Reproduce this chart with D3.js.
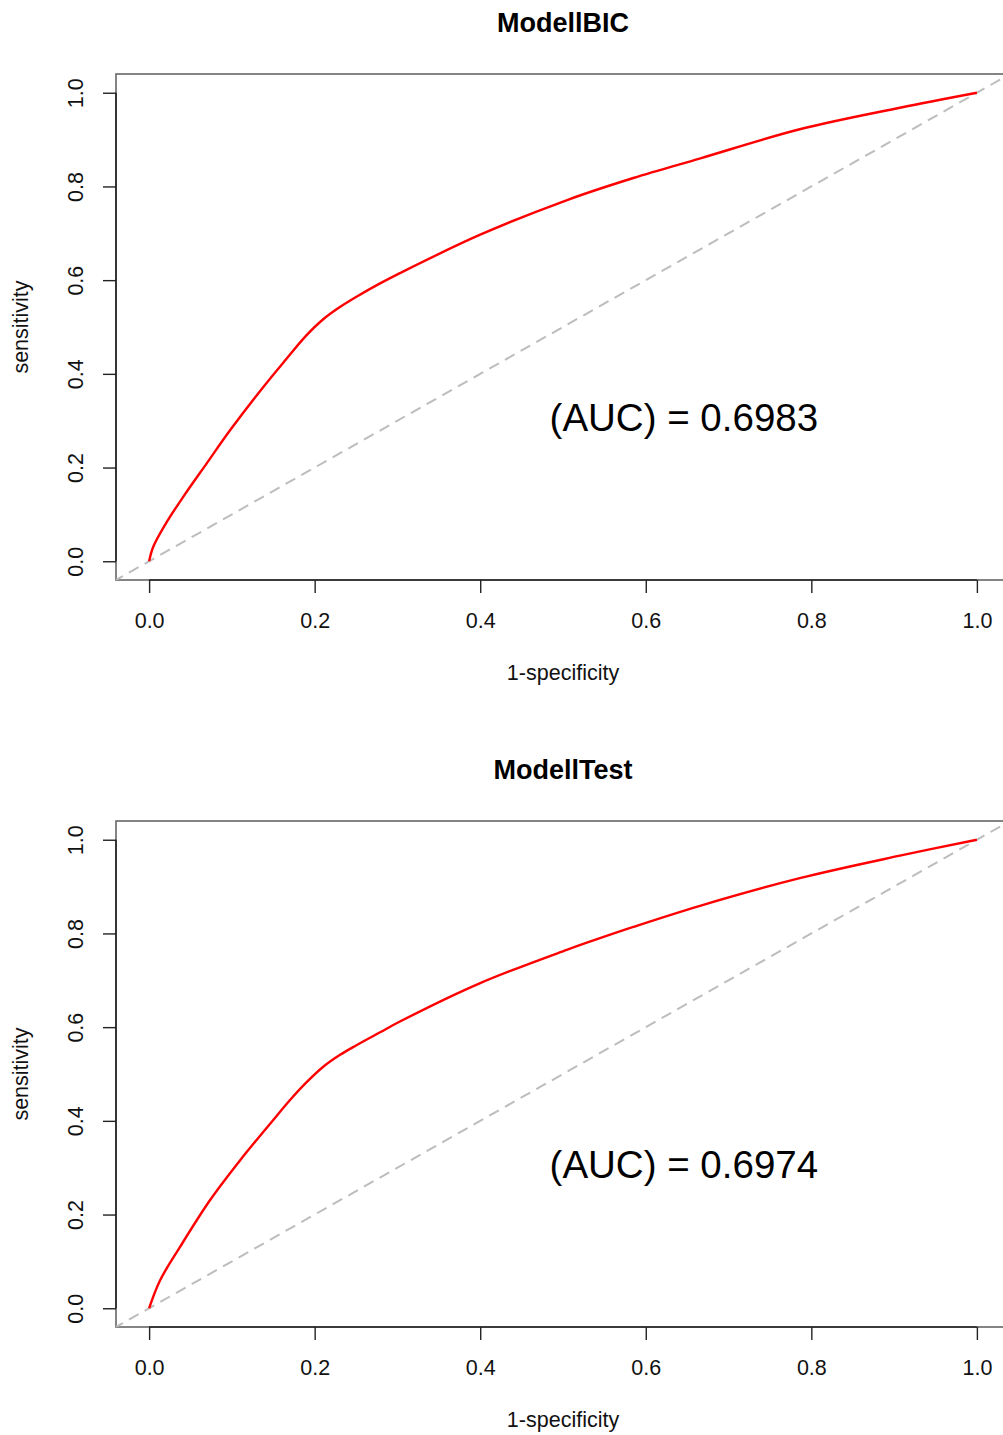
<!DOCTYPE html>
<html>
<head>
<meta charset="utf-8">
<script src="https://cdn.jsdelivr.net/npm/d3@7"></script>
<style>
  html, body { margin: 0; padding: 0; background: #fff; }
  svg { display: block; font-family: "Liberation Sans", Arial, Helvetica, sans-serif; }
</style>
</head>
<body>
<svg id="chart" width="1003" height="1435"></svg>
<script>
// ---- data ----
const panelTitles = ["ModellBIC", "ModellTest"];
const aucLabels = ["(AUC) = 0.6983", "(AUC) = 0.6974"];
const xLabel = "1-specificity";
const yLabel = "sensitivity";
const tickValues = [0, 0.2, 0.4, 0.6, 0.8, 1.0];

const fprBIC  = [0, 0.005, 0.02, 0.041, 0.07, 0.098, 0.138, 0.165, 0.19, 0.21, 0.23, 0.25, 0.279, 0.303, 0.40, 0.505, 0.585, 0.666, 0.786, 0.907, 1.0];
const tprBIC  = [0, 0.031, 0.080, 0.137, 0.21, 0.280, 0.372, 0.430, 0.482, 0.516, 0.542, 0.564, 0.593, 0.615, 0.697, 0.771, 0.818, 0.860, 0.922, 0.968, 1.0];
const fprTest = [0, 0.0133, 0.0374, 0.0737, 0.11, 0.150, 0.170, 0.190, 0.21, 0.2307, 0.25, 0.279, 0.303, 0.40, 0.5045, 0.5447, 0.585, 0.6655, 0.786, 0.907, 1.0];
const tprTest = [0, 0.0598, 0.131, 0.231, 0.316, 0.402, 0.444, 0.482, 0.515, 0.541, 0.561, 0.589, 0.612, 0.694, 0.765, 0.790, 0.814, 0.859, 0.918, 0.966, 1.0];

const curves = [
  fprBIC.map((d, i) => ({x: d, y: tprBIC[i]})),
  fprTest.map((d, i) => ({x: d, y: tprTest[i]}))
];

// ---- layout ----
const svg = d3.select("#chart");
const panelOffset = 747;
const plotL = 116, plotR = 1010, plotT = 74, plotB = 580;

const x = d3.scaleLinear().domain([-0.04, 1.04]).range([plotL, plotR]);
const yBase = d3.scaleLinear().domain([-0.04, 1.04]).range([plotB, plotT]);

const defs = svg.append("defs");

panelTitles.forEach((title, p) => {
  const off = p * panelOffset;
  const y = yBase.copy().range([plotB + off, plotT + off]);
  const g = svg.append("g");

  const clipId = "clip" + p;
  defs.append("clipPath").attr("id", clipId)
    .append("rect")
    .attr("x", plotL).attr("y", plotT + off)
    .attr("width", plotR - plotL).attr("height", plotB - plotT);

  // title
  g.append("text")
    .attr("x", (plotL + plotR) / 2).attr("y", 32 + off)
    .attr("text-anchor", "middle")
    .attr("font-weight", "bold").attr("font-size", 27)
    .attr("fill", "#000")
    .text(title);

  // box
  g.append("rect")
    .attr("x", plotL).attr("y", plotT + off)
    .attr("width", plotR - plotL).attr("height", plotB - plotT)
    .attr("fill", "none").attr("stroke", "#666").attr("stroke-width", 1.6);

  // diagonal reference (abline)
  g.append("line")
    .attr("clip-path", `url(#${clipId})`)
    .attr("x1", x(-0.1)).attr("y1", y(-0.1))
    .attr("x2", x(1.1)).attr("y2", y(1.1))
    .attr("stroke", "#bdbdbd").attr("stroke-width", 2)
    .attr("stroke-dasharray", "11,7");

  // ROC curve
  const line = d3.line().x(d => x(d.x)).y(d => y(d.y)).curve(d3.curveCatmullRom.alpha(0.5));
  g.append("path")
    .datum(curves[p])
    .attr("d", line)
    .attr("fill", "none").attr("stroke", "#ff0000").attr("stroke-width", 2.4)
    .attr("stroke-linejoin", "round");

  // x axis
  const xAxis = d3.axisBottom(x).tickValues(tickValues).tickSize(13).tickPadding(20)
    .tickFormat(d3.format(".1f"));
  const gx = g.append("g").attr("transform", `translate(0,${plotB + off})`).call(xAxis);
  gx.select(".domain").attr("stroke", "#222").attr("stroke-width", 1.6)
    .attr("d", `M${x(0)},0H${x(1)}`);
  gx.selectAll(".tick line").attr("stroke", "#222").attr("stroke-width", 1.4);
  gx.selectAll(".tick text").attr("font-size", 21.5).attr("fill", "#111")
    .attr("font-family", "Liberation Sans, Arial, sans-serif");

  // y axis
  const yAxis = d3.axisLeft(y).tickValues(tickValues).tickSize(13).tickFormat(d3.format(".1f"));
  const gy = g.append("g").attr("transform", `translate(${plotL},0)`).call(yAxis);
  gy.select(".domain").attr("stroke", "#222").attr("stroke-width", 1.6)
    .attr("d", `M0,${y(0)}V${y(1)}`);
  gy.selectAll(".tick line").attr("stroke", "#222").attr("stroke-width", 1.4);
  gy.selectAll(".tick text").remove();
  gy.selectAll(".tick").append("text")
    .attr("transform", "translate(-33,0) rotate(-90)")
    .attr("text-anchor", "middle")
    .attr("font-size", 21.5).attr("fill", "#111")
    .attr("font-family", "Liberation Sans, Arial, sans-serif")
    .text(d => d3.format(".1f")(d));

  // axis labels
  g.append("text")
    .attr("x", (plotL + plotR) / 2).attr("y", 680 + off)
    .attr("text-anchor", "middle").attr("font-size", 21.5).attr("fill", "#111")
    .text(xLabel);
  g.append("text")
    .attr("transform", `translate(28,${(plotT + plotB) / 2 + off}) rotate(-90)`)
    .attr("text-anchor", "middle").attr("font-size", 21.5).attr("fill", "#111")
    .text(yLabel);

  // AUC annotation
  g.append("text")
    .attr("x", x(0.646)).attr("y", y(0.305) + 13)
    .attr("text-anchor", "middle").attr("font-size", 38.5).attr("fill", "#000")
    .text(aucLabels[p]);
});
</script>
</body>
</html>
